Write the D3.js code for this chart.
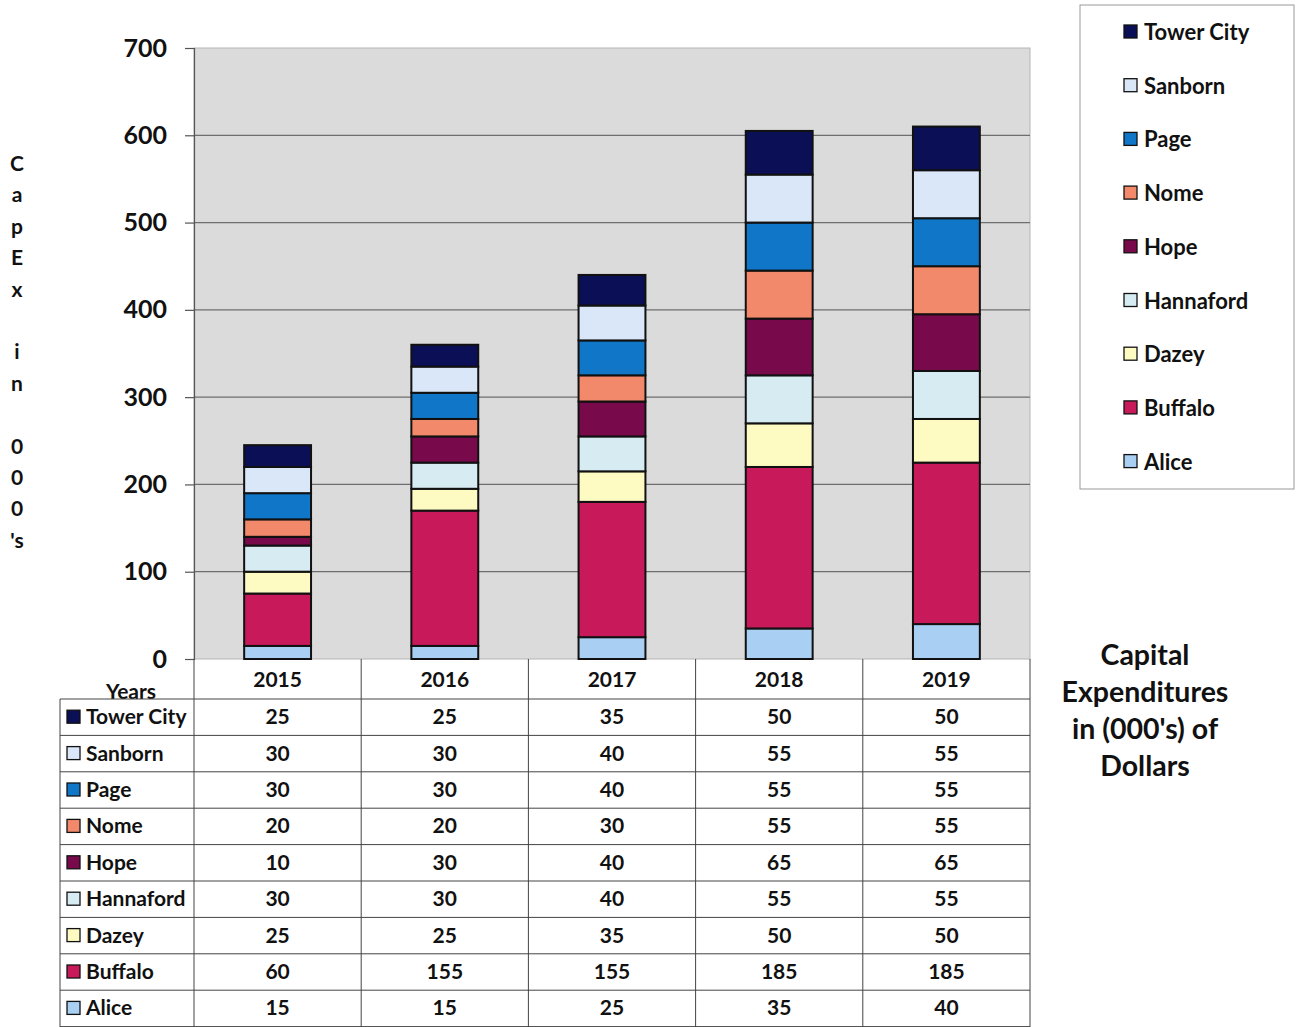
<!DOCTYPE html>
<html>
<head>
<meta charset="utf-8">
<script src="https://cdn.jsdelivr.net/npm/d3@7"></script>
<style>
  body { margin: 0; background: #fff; }
  text { font-family: Lato, "Open Sans", sans-serif; font-weight: bold; fill: #111; }
</style>
</head>
<body>
<script>
// data (values in thousands of dollars)
var years = ["2015", "2016", "2017", "2018", "2019"];
var series = ["Alice", "Buffalo", "Dazey", "Hannaford", "Hope", "Nome", "Page", "Sanborn", "Tower City"];
var alice     = [15, 15, 25, 35, 40];
var buffalo   = [60, 155, 155, 185, 185];
var dazey     = [25, 25, 35, 50, 50];
var hannaford = [30, 30, 40, 55, 55];
var hope      = [10, 30, 40, 65, 65];
var nome      = [20, 20, 30, 55, 55];
var page      = [30, 30, 40, 55, 55];
var sanborn   = [30, 30, 40, 55, 55];
var towerCity = [25, 25, 35, 50, 50];
var yTicks = [0, 100, 200, 300, 400, 500, 600, 700];

var values = {
  "Alice": alice, "Buffalo": buffalo, "Dazey": dazey, "Hannaford": hannaford,
  "Hope": hope, "Nome": nome, "Page": page, "Sanborn": sanborn, "Tower City": towerCity
};
var colors = {
  "Alice": "#a9cff2", "Buffalo": "#c8195b", "Dazey": "#fdfbc2", "Hannaford": "#d7ebf2",
  "Hope": "#780a4c", "Nome": "#f3896b", "Page": "#1077c8", "Sanborn": "#dae7f8",
  "Tower City": "#0b0f55"
};

var W = 1300, H = 1027;
var plot = {left: 194, right: 1030, top: 48, bottom: 659};

var svg = d3.select("body").append("svg")
    .attr("width", W)
    .attr("height", H);

var x = d3.scaleBand().domain(years).range([plot.left, plot.right]).paddingInner(0).paddingOuter(0);
var y = d3.scaleLinear().domain([0, 700]).range([plot.bottom, plot.top]);

// plot background
svg.append("rect")
    .attr("x", plot.left).attr("y", plot.top)
    .attr("width", plot.right - plot.left).attr("height", plot.bottom - plot.top)
    .attr("fill", "#dcdbdb")
    .attr("stroke", "#b5b5b5");

// gridlines
svg.append("g").selectAll("line")
    .data(yTicks.slice(1, -1))
    .join("line")
    .attr("x1", plot.left).attr("x2", plot.right)
    .attr("y1", d => y(d)).attr("y2", d => y(d))
    .attr("stroke", "#6e6e6e").attr("stroke-width", 1.2);

// y axis
var yAxis = svg.append("g")
    .attr("transform", "translate(" + plot.left + ",0)")
    .call(d3.axisLeft(y).tickValues(yTicks).tickSize(9).tickPadding(18));
yAxis.select(".domain").attr("stroke", "#555").attr("stroke-width", 1.2);
yAxis.selectAll(".tick line").attr("stroke", "#555").attr("stroke-width", 1.2);
yAxis.selectAll(".tick text")
    .style("font-family", "Lato, 'Open Sans', sans-serif")
    .style("font-weight", "bold")
    .style("font-size", "25px")
    .attr("fill", "#111");

// stacked bars
var rows = years.map(function(yr, i) {
  var r = {year: yr};
  series.forEach(function(s) { r[s] = values[s][i]; });
  return r;
});
var stack = d3.stack().keys(series)(rows);
var barW = x.bandwidth() * 0.4;

svg.append("g").selectAll("g")
    .data(stack)
    .join("g")
    .attr("fill", d => colors[d.key])
    .selectAll("rect")
    .data(d => d)
    .join("rect")
    .attr("x", d => x(d.data.year) + (x.bandwidth() - barW) / 2)
    .attr("y", d => y(d[1]))
    .attr("width", barW)
    .attr("height", d => y(d[0]) - y(d[1]))
    .attr("stroke", "#111")
    .attr("stroke-width", 2);

// y label, one letter per line
var yLabel = ["C", "a", "p", "E", "x", "", "i", "n", "", "0", "0", "0", "'s"];
svg.append("g").selectAll("text")
    .data(yLabel)
    .join("text")
    .attr("x", 17)
    .attr("y", (d, i) => 171 + i * 31.4)
    .attr("text-anchor", "middle")
    .style("font-size", "21px")
    .text(d => d);

// data table
var tableLeft = 60, headerY = 699, rowH = 36.4;
var tableRows = series.slice().reverse();
var tbl = svg.append("g");

// year header
tbl.selectAll("text.yr")
    .data(years)
    .join("text")
    .attr("class", "yr")
    .attr("x", d => x(d) + x.bandwidth() / 2)
    .attr("y", 687)
    .attr("text-anchor", "middle")
    .style("font-size", "21px")
    .text(d => d);

tbl.append("text")
    .attr("x", 131).attr("y", 699)
    .attr("text-anchor", "middle")
    .style("font-size", "21px")
    .text("Years");

// horizontal lines
var hLines = d3.range(tableRows.length + 1).map(i => headerY + i * rowH);
tbl.selectAll("line.h")
    .data(hLines)
    .join("line")
    .attr("x1", tableLeft).attr("x2", plot.right)
    .attr("y1", d => d).attr("y2", d => d)
    .attr("stroke", "#444").attr("stroke-width", 1);

// vertical lines
var vLines = years.map(d => x(d)).concat([plot.right]);
tbl.selectAll("line.v")
    .data(vLines)
    .join("line")
    .attr("x1", d => d).attr("x2", d => d)
    .attr("y1", plot.bottom).attr("y2", H)
    .attr("stroke", "#444").attr("stroke-width", 1);
tbl.append("line")
    .attr("x1", tableLeft).attr("x2", tableLeft)
    .attr("y1", headerY).attr("y2", H)
    .attr("stroke", "#444");

var rowG = tbl.selectAll("g.row")
    .data(tableRows)
    .join("g")
    .attr("transform", (d, i) => "translate(0," + (headerY + i * rowH) + ")");

rowG.append("rect")
    .attr("x", 67).attr("y", rowH / 2 - 7)
    .attr("width", 13).attr("height", 13)
    .attr("fill", d => colors[d])
    .attr("stroke", "#111").attr("stroke-width", 1.3);
rowG.append("text")
    .attr("x", 86).attr("y", rowH / 2 + 7)
    .style("font-size", "21px")
    .text(d => d);
rowG.selectAll("text.v")
    .data(d => values[d].map((v, i) => ({v: v, yr: years[i]})))
    .join("text")
    .attr("class", "v")
    .attr("x", d => x(d.yr) + x.bandwidth() / 2)
    .attr("y", rowH / 2 + 7)
    .attr("text-anchor", "middle")
    .style("font-size", "21px")
    .text(d => d.v);

// legend
var legend = svg.append("g");
legend.append("rect")
    .attr("x", 1080).attr("y", 5)
    .attr("width", 214).attr("height", 484)
    .attr("fill", "#fff")
    .attr("stroke", "#999");
var legItems = legend.selectAll("g.item")
    .data(tableRows)
    .join("g")
    .attr("transform", (d, i) => "translate(1124," + (32 + i * 53.7) + ")");
legItems.append("rect")
    .attr("x", 0).attr("y", -7)
    .attr("width", 13).attr("height", 13)
    .attr("fill", d => colors[d])
    .attr("stroke", "#111").attr("stroke-width", 1.3);
legItems.append("text")
    .attr("x", 20).attr("y", 8)
    .style("font-size", "22px")
    .text(d => d);

// side title
var sideTitle = ["Capital", "Expenditures", "in (000's) of", "Dollars"];
svg.append("g").selectAll("text")
    .data(sideTitle)
    .join("text")
    .attr("x", 1145)
    .attr("y", (d, i) => 665 + i * 37)
    .attr("text-anchor", "middle")
    .style("font-size", "28.5px")
    .text(d => d);
</script>
</body>
</html>
